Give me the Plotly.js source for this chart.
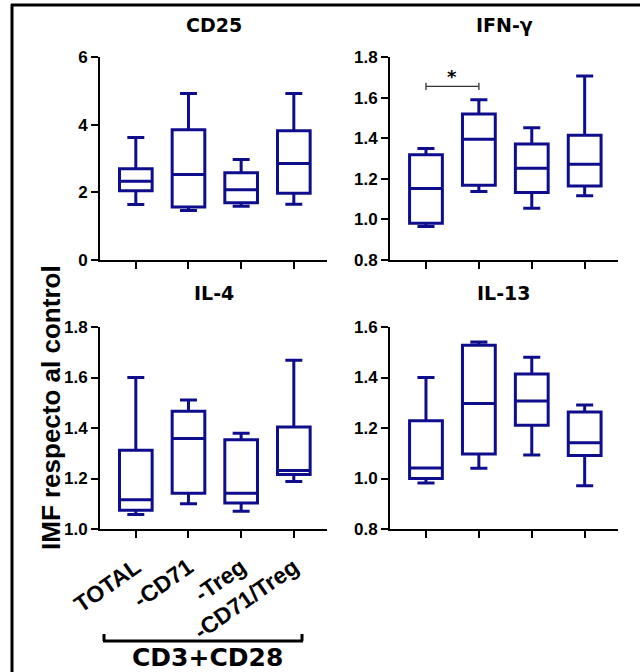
<!DOCTYPE html>
<html><head><meta charset="utf-8">
<script src="https://cdn.plot.ly/plotly-3.0.1.min.js"></script>
<style>html,body{margin:0;padding:0;background:#fff}#chart{width:640px;height:672px}</style>
</head><body><div id="chart"></div><script>
// ---- data ----
const groups = ['TOTAL', '-CD71', '-Treg', '-CD71/Treg'];
const panelTitles = ['CD25', 'IFN-γ', 'IL-4', 'IL-13'];

const cd25Low  = [1.64, 1.46, 1.59, 1.65];
const cd25Q1   = [2.05, 1.57, 1.69, 1.97];
const cd25Med  = [2.33, 2.53, 2.08, 2.85];
const cd25Q3   = [2.70, 3.85, 2.58, 3.82];
const cd25High = [3.62, 4.92, 2.97, 4.92];

const ifnLow  = [0.965, 1.137, 1.055, 1.116];
const ifnQ1   = [0.981, 1.168, 1.132, 1.165];
const ifnMed  = [1.152, 1.395, 1.252, 1.272];
const ifnQ3   = [1.318, 1.519, 1.372, 1.415];
const ifnHigh = [1.349, 1.589, 1.451, 1.706];

const il4Low  = [1.057, 1.100, 1.070, 1.188];
const il4Q1   = [1.074, 1.142, 1.103, 1.216];
const il4Med  = [1.116, 1.358, 1.142, 1.232];
const il4Q3   = [1.312, 1.466, 1.353, 1.404];
const il4High = [1.600, 1.511, 1.379, 1.668];

const il13Low  = [0.982, 1.041, 1.093, 0.971];
const il13Q1   = [1.000, 1.097, 1.211, 1.091];
const il13Med  = [1.042, 1.297, 1.307, 1.142];
const il13Q3   = [1.229, 1.528, 1.414, 1.263];
const il13High = [1.400, 1.541, 1.480, 1.291];

const sigPair = ['TOTAL', '-CD71'];
const sigY = 1.655;
const sigLabel = '*';
const yTitle = 'IMF respecto al control';
const groupLabel = 'CD3+CD28';

// ---- drawing ----
const W = 640, H = 672;
const px = x => x / W, py = y => 1 - y / H;
const navy = '#0e0e8c';

function boxTrace(n, low, q1, med, q3, high) {
  return {
    type: 'box', x: groups, lowerfence: low, q1: q1, median: med, q3: q3, upperfence: high,
    xaxis: 'x' + (n === 1 ? '' : n), yaxis: 'y' + (n === 1 ? '' : n),
    boxpoints: false, width: 0.62, whiskerwidth: 0.52,
    line: {color: navy, width: 3}, fillcolor: 'rgba(0,0,0,0)',
    hoverinfo: 'skip', showlegend: false
  };
}

const data = [
  boxTrace(1, cd25Low, cd25Q1, cd25Med, cd25Q3, cd25High),
  boxTrace(2, ifnLow, ifnQ1, ifnMed, ifnQ3, ifnHigh),
  boxTrace(3, il4Low, il4Q1, il4Med, il4Q3, il4High),
  boxTrace(4, il13Low, il13Q1, il13Med, il13Q3, il13High),
  {
    type: 'scatter', mode: 'lines', xaxis: 'x2', yaxis: 'y2',
    x: [sigPair[0], sigPair[0], null, sigPair[0], sigPair[1], null, sigPair[1], sigPair[1]],
    y: [sigY - 0.018, sigY + 0.018, null, sigY, sigY, null, sigY - 0.018, sigY + 0.018],
    line: {color: '#333', width: 1.3}, hoverinfo: 'skip', showlegend: false
  }
];

const tickFont = {family: 'Liberation Sans, Arial, sans-serif', size: 17, color: '#000', weight: 'bold'};
const xRange = [-0.68, 3.63];

function xAxis(dom, anchor, labels) {
  return {
    domain: dom, anchor: anchor, type: 'category', range: xRange,
    showline: true, linecolor: '#000', linewidth: 2,
    ticks: 'outside', ticklen: 7, tickwidth: 2, tickcolor: '#000',
    showgrid: false, zeroline: false, showticklabels: labels,
    tickangle: -35, ticklabelstandoff: 7,
    tickfont: {family: 'Liberation Sans, Arial, sans-serif', size: 23, color: '#000', weight: 'bold'},
    fixedrange: true
  };
}
function yAxis(dom, anchor, range, dtick, fmt) {
  return {
    domain: dom, anchor: anchor, range: range, dtick: dtick, tick0: range[0], tickformat: fmt,
    showline: true, linecolor: '#000', linewidth: 2,
    ticks: 'outside', ticklen: 7, tickwidth: 2, tickcolor: '#000',
    showgrid: false, zeroline: false, tickfont: tickFont, fixedrange: true
  };
}

const xA = [px(100), px(327)], xB = [px(390), px(618)];
const yTop = [py(260), py(57)], yBot = [py(529), py(327)];

const titleFont = {family: 'DejaVu Sans', size: 19, color: '#000', weight: 'bold'};
const titleY = [py(25), py(25), py(293), py(293)];
const titleX = [(xA[0] + xA[1]) / 2, (xB[0] + xB[1]) / 2, (xA[0] + xA[1]) / 2, (xB[0] + xB[1]) / 2];

const annotations = panelTitles.map((t, i) => ({
  text: t, xref: 'paper', yref: 'paper', x: titleX[i], y: titleY[i],
  showarrow: false, font: titleFont, xanchor: 'center', yanchor: 'middle'
}));
annotations.push({
  text: yTitle, xref: 'paper', yref: 'paper', x: px(51), y: py(408), textangle: -90,
  showarrow: false, font: {family: 'Liberation Sans, Arial, sans-serif', size: 26, color: '#000', weight: 'bold'},
  xanchor: 'center', yanchor: 'middle'
});
annotations.push({
  text: groupLabel, xref: 'paper', yref: 'paper', x: px(207), y: py(657),
  showarrow: false, font: {family: 'DejaVu Sans', size: 25, color: '#000', weight: 'bold'},
  xanchor: 'center', yanchor: 'middle'
});
annotations.push({
  text: sigLabel, xref: 'x2', yref: 'y2', x: 0.5, y: sigY + 0.05,
  showarrow: false, font: {family: 'DejaVu Sans', size: 18, color: '#000', weight: 'bold'},
  xanchor: 'center', yanchor: 'middle'
});

const shapes = [
  {type: 'line', xref: 'paper', yref: 'paper', x0: px(11), x1: 1, y0: py(5), y1: py(5), line: {color: '#000', width: 3}},
  {type: 'line', xref: 'paper', yref: 'paper', x0: px(12), x1: px(12), y0: py(4), y1: 0, line: {color: '#000', width: 3}},
  {type: 'line', xref: 'paper', yref: 'paper', x0: px(103), x1: px(303), y0: py(641), y1: py(641), line: {color: '#000', width: 3}},
  {type: 'line', xref: 'paper', yref: 'paper', x0: px(104), x1: px(104), y0: py(641), y1: py(634), line: {color: '#000', width: 3}},
  {type: 'line', xref: 'paper', yref: 'paper', x0: px(302), x1: px(302), y0: py(641), y1: py(634), line: {color: '#000', width: 3}}
];

const layout = {
  width: W, height: H, margin: {l: 0, r: 0, t: 0, b: 0},
  paper_bgcolor: '#fff', plot_bgcolor: '#fff', showlegend: false,
  xaxis: xAxis(xA, 'y', false), yaxis: yAxis(yTop, 'x', [0, 6], 2, 'd'),
  xaxis2: xAxis(xB, 'y2', false), yaxis2: yAxis(yTop, 'x2', [0.8, 1.8], 0.2, '.1f'),
  xaxis3: xAxis(xA, 'y3', true), yaxis3: yAxis(yBot, 'x3', [1.0, 1.8], 0.2, '.1f'),
  xaxis4: xAxis(xB, 'y4', false), yaxis4: yAxis(yBot, 'x4', [0.8, 1.6], 0.2, '.1f'),
  annotations: annotations, shapes: shapes
};

Plotly.newPlot('chart', data, layout, {displayModeBar: false, staticPlot: true});
</script></body></html>
